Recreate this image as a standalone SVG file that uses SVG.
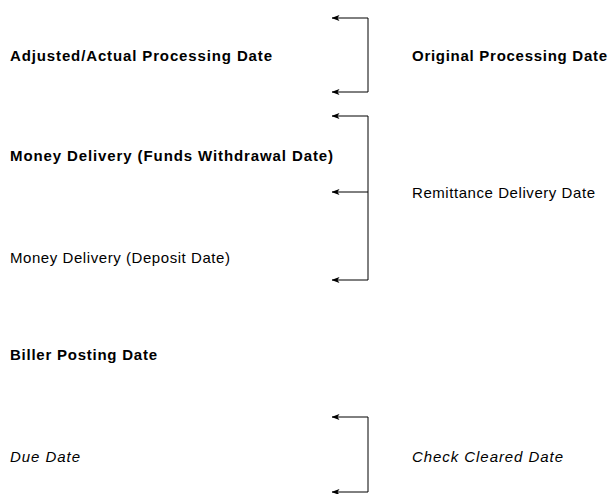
<svg xmlns="http://www.w3.org/2000/svg" width="612" height="494" viewBox="0 0 612 494">
  <style>
    text { font-family: "Liberation Sans", Arial, sans-serif; font-size: 15px; fill: #000; }
    .b { font-weight: bold; }
    .i { font-style: italic; }
    .wire { fill: none; stroke: #000; stroke-width: 1; }
  </style>
  <defs>
    <!-- filled arrowhead, tip leads along the path direction -->
    <marker id="ah" viewBox="0 0 8 6" refX="7.5" refY="3" markerWidth="8" markerHeight="6" markerUnits="userSpaceOnUse" orient="auto-start-reverse">
      <path d="M8,3 L0,0 L2,3 L0,6 Z" fill="#000"/>
    </marker>
  </defs>
  <rect width="612" height="494" fill="#fff"/>

  <g id="connectors">
    <path class="wire" d="M332,18 H368 V92 H332" marker-start="url(#ah)" marker-end="url(#ah)"/>
    <path class="wire" d="M332,116 H368 V280 H332" marker-start="url(#ah)" marker-end="url(#ah)"/>
    <path class="wire" d="M368,192 H332" marker-end="url(#ah)"/>
    <path class="wire" d="M332,417 H368 V492 H332" marker-start="url(#ah)" marker-end="url(#ah)"/>
  </g>

  <g id="adjusted-date"><text class="b" x="10" y="61" textLength="262" lengthAdjust="spacing">Adjusted/Actual Processing Date</text></g>
  <g id="original-date"><text class="b" x="412" y="61" textLength="195" lengthAdjust="spacing">Original Processing Date</text></g>
  <g id="funds-withdrawal"><text class="b" x="10" y="161" textLength="323" lengthAdjust="spacing">Money Delivery (Funds Withdrawal Date)</text></g>
  <g id="remittance-date"><text x="412" y="198" textLength="183" lengthAdjust="spacing">Remittance Delivery Date</text></g>
  <g id="deposit-date"><text x="10" y="263" textLength="220" lengthAdjust="spacing">Money Delivery (Deposit Date)</text></g>
  <g id="biller-posting"><text class="b" x="10" y="360" textLength="147" lengthAdjust="spacing">Biller Posting Date</text></g>
  <g id="due-date"><text class="i" x="10" y="462" textLength="70" lengthAdjust="spacing">Due Date</text></g>
  <g id="check-cleared"><text class="i" x="412" y="462" textLength="151" lengthAdjust="spacing">Check Cleared Date</text></g>
</svg>
